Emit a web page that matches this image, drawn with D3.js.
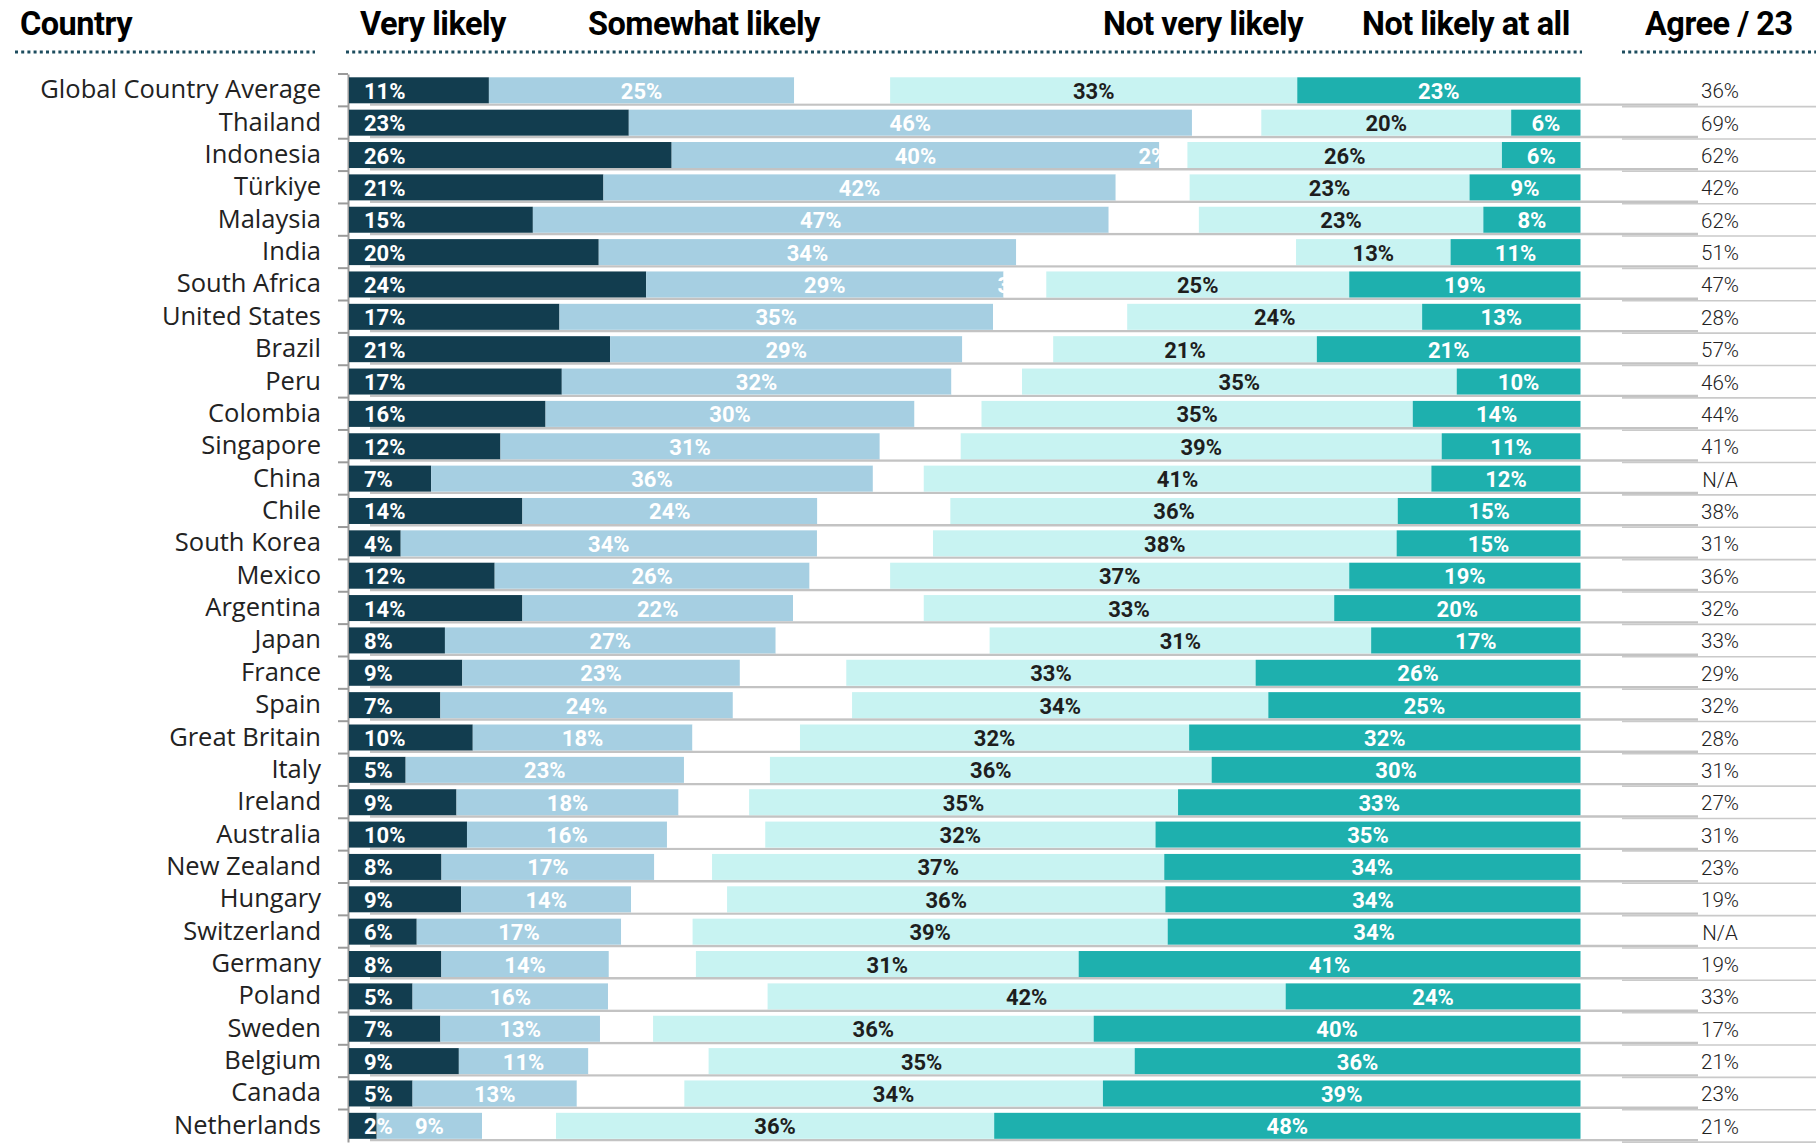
<!DOCTYPE html>
<html>
<head>
<meta charset="utf-8">
<script src="https://cdn.jsdelivr.net/npm/d3@7"></script>
<style>
  html, body { margin: 0; padding: 0; background: #ffffff; }
  svg { display: block; }
</style>
</head>
<body>
<svg id="chart" width="1816" height="1143"></svg>
<script>
const countries = ["Global Country Average","Thailand","Indonesia","Türkiye","Malaysia","India","South Africa","United States","Brazil","Peru","Colombia","Singapore","China","Chile","South Korea","Mexico","Argentina","Japan","France","Spain","Great Britain","Italy","Ireland","Australia","New Zealand","Hungary","Switzerland","Germany","Poland","Sweden","Belgium","Canada","Netherlands"];
// Shares in % (labels show them rounded)
const veryLikely     = [11.36,22.72,26.2,20.66,14.93,20.28,24.13,17.09,21.2,17.28,15.96,12.3,6.67,14.08,4.2,11.83,14.08,7.79,9.2,7.42,10.05,4.6,8.73,9.58,7.51,9.11,5.5,7.5,5.16,7.42,8.92,5.16,2.25];
const somewhatLikely = [24.79,45.73,39.6,41.6,46.76,33.9,29.02,35.21,28.6,31.64,29.96,30.8,35.87,23.95,33.8,25.57,21.98,26.86,22.54,23.75,17.84,22.6,18.03,16.24,17.28,13.8,16.6,13.6,15.87,12.96,10.52,13.34,8.55];
const dontKnow       = [7.79,5.63,2.28,6.0,7.32,22.72,3.47,10.89,7.38,5.73,5.44,6.57,4.13,10.8,9.42,6.54,10.61,17.37,8.64,9.68,8.73,6.98,5.73,7.98,4.69,7.79,5.8,7.07,12.96,4.31,9.76,8.73,6.01];
const notVeryLikely  = [33.06,20.29,25.54,22.73,23.1,12.55,24.6,23.95,21.41,35.3,35.02,39.06,41.22,36.33,37.65,37.28,33.33,30.98,33.24,33.8,31.6,35.87,34.83,31.69,36.72,35.59,38.58,31.08,42.07,35.78,34.6,33.99,35.58];
const notLikelyAtAll = [23.0,5.63,6.38,9.01,7.89,10.55,18.78,12.86,21.41,10.05,13.62,11.27,12.11,14.84,14.93,18.78,20.0,17.0,26.38,25.35,31.78,29.95,32.68,34.51,33.8,33.71,33.52,40.75,23.94,39.53,36.2,38.78,47.61];
const agree23        = ["36%","69%","62%","42%","62%","51%","47%","28%","57%","46%","44%","41%","N/A","38%","31%","36%","32%","33%","29%","32%","28%","31%","27%","31%","23%","19%","N/A","19%","33%","17%","21%","23%","21%"];
const headers = ["Country","Very likely","Somewhat likely","Not very likely","Not likely at all","Agree / 23"];

const colors = {very:"#123d4f", somewhat:"#a6cfe2", unsure:"#ffffff", notVery:"#c8f3f2", notAll:"#1eb0ae"};
const condFont = "Roboto, 'DejaVu Sans', sans-serif";

const svg = d3.select("#chart");
const x = d3.scaleLinear().domain([0, 100]).range([349, 1580.5]);
const rowStep = 32.36;
const y = d3.scaleBand().domain(countries).range([74, 74 + rowStep * countries.length]).paddingInner(0).paddingOuter(0);
const barOff = 3.3, barH = 26;

const rows = countries.map((c, i) => ({
  c, i,
  v: veryLikely[i], s: somewhatLikely[i], u: dontKnow[i],
  nv: notVeryLikely[i], na: notLikelyAtAll[i], ag: agree23[i]
}));

// Header
const hdr = svg.append("g").attr("font-family", condFont).attr("font-weight", 700).attr("font-size", 32.5).attr("fill", "#000");
const hx = [20, 360, 588, 1103, 1362, 1645];
headers.forEach((h, k) => {
  hdr.append("text").attr("x", hx[k]).attr("y", 35).text(h).attr("letter-spacing", -0.5);
});
const dots = [[15, 315], [346, 1582], [1622, 1816]];
dots.forEach(([a, b]) => {
  svg.append("line").attr("x1", a).attr("x2", b).attr("y1", 52).attr("y2", 52)
    .attr("stroke", "#1d4c5e").attr("stroke-width", 3).attr("stroke-dasharray", "3,3.2");
});

// Shadow / separator lines
const lines = svg.append("g");
rows.forEach(r => {
  const yb = y(r.c) + barOff + barH;
  lines.append("line").attr("x1", 370).attr("x2", 1698).attr("y1", yb + 1.3).attr("y2", yb + 1.3)
    .attr("stroke", "#c3c3c3").attr("stroke-width", 2.4);
  lines.append("line").attr("x1", 1622).attr("x2", 1816).attr("y1", yb + 3.3).attr("y2", yb + 3.3)
    .attr("stroke", "#cacaca").attr("stroke-width", 1.6);
});

// Axis
const axisG = svg.append("g").attr("transform", "translate(348,0)");
const axis = d3.axisLeft(y).tickValues([]).tickSizeOuter(0);
axisG.call(axis);
axisG.select(".domain").attr("stroke", "#9a9a9a").attr("stroke-width", 2);
rows.forEach(r => {
  axisG.append("line").attr("x1", -10).attr("x2", 0).attr("y1", y(r.c)).attr("y2", y(r.c))
    .attr("stroke", "#9a9a9a").attr("stroke-width", 2);
});

// Bars
const segs = [];
rows.forEach(r => {
  segs.push({r, k:"very", x0:0, x1:r.v, val:r.v});
  segs.push({r, k:"somewhat", x0:r.v, x1:r.v + r.s, val:r.s});
  segs.push({r, k:"unsure", x0:r.v + r.s, x1:r.v + r.s + r.u, val:r.u});
  segs.push({r, k:"notVery", x0:100 - r.na - r.nv, x1:100 - r.na, val:r.nv});
  segs.push({r, k:"notAll", x0:100 - r.na, x1:100, val:r.na});
});
svg.append("g").selectAll("rect").data(segs).join("rect")
  .attr("x", d => x(d.x0))
  .attr("width", d => Math.max(0, x(d.x1) - x(d.x0)))
  .attr("y", d => y(d.r.c) + barOff)
  .attr("height", barH)
  .attr("fill", d => colors[d.k]);

// Bar labels
svg.append("g").attr("font-family", condFont).attr("font-weight", 700).attr("font-size", 22)
  .selectAll("text").data(segs).join("text")
  .attr("x", d => d.k === "very" ? x(0) + 15 : d.k === "unsure" ? x(d.x1) - 20 : (x(d.x0) + x(d.x1)) / 2)
  .attr("y", d => y(d.r.c) + barOff + barH / 2 + 8.5)
  .attr("text-anchor", d => d.k === "very" ? "start" : d.k === "unsure" ? "end" : "middle")
  .attr("fill", d => d.k === "notVery" ? "#1e1e1e" : "#ffffff")
  .text(d => Math.round(d.val) + "%");

// Country labels
svg.append("g").attr("font-family", "'Open Sans', 'Noto Sans', sans-serif").attr("font-size", 25.5).attr("fill", "#222")
  .selectAll("text").data(rows).join("text")
  .attr("x", 321).attr("y", d => y(d.c) + barOff + barH / 2 + 8)
  .attr("text-anchor", "end").text(d => d.c);

// Agree column
svg.append("g").attr("font-family", condFont).attr("font-weight", 300).attr("font-size", 20.5).attr("fill", "#222")
  .selectAll("text").data(rows).join("text")
  .attr("x", 1720).attr("y", d => y(d.c) + barOff + barH / 2 + 8)
  .attr("text-anchor", "middle").text(d => d.ag);
</script>
</body>
</html>
